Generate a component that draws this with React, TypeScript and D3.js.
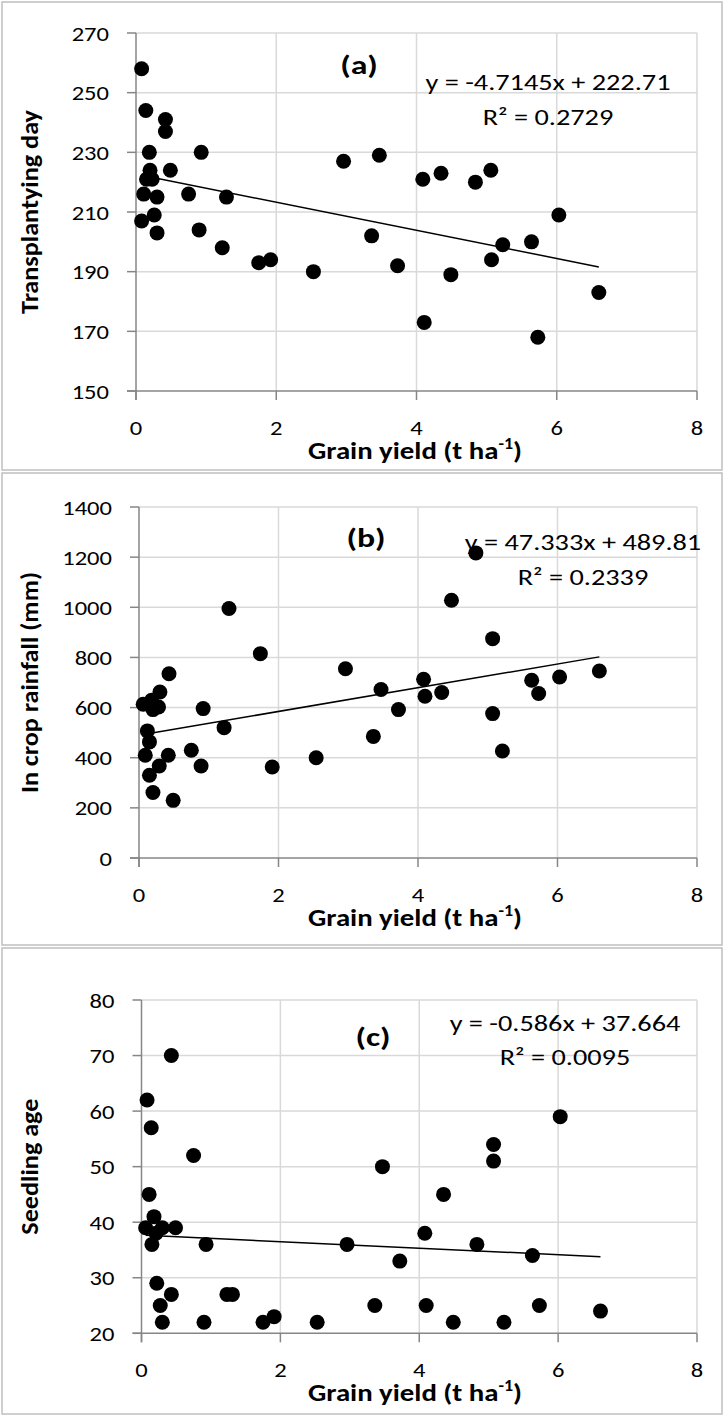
import React from 'react';
import * as d3 from 'd3';

// ---------- DATA ----------
const xTicks = [0, 2, 4, 6, 8];

const yieldA = [0.08, 0.14, 0.42, 0.42, 0.19, 0.93, 0.2, 0.49, 0.15, 0.23, 0.11, 0.3, 0.75, 1.29, 0.26, 0.08, 0.3, 0.9, 1.23, 1.75, 1.92, 2.53, 2.96, 3.47, 3.36, 3.73, 4.09, 4.35, 4.49, 4.84, 5.06, 5.07, 5.23, 5.64, 6.03, 6.6, 4.11, 5.73];
const transplantDay = [258, 244, 241, 237, 230, 230, 224, 224, 221, 221, 216, 215, 216, 215, 209, 207, 203, 204, 198, 193, 194, 190, 227, 229, 202, 192, 221, 223, 189, 220, 224, 194, 199, 200, 209, 183, 173, 168];
const yTicksA = [150, 170, 190, 210, 230, 250, 270];

const yieldB = [0.06, 0.18, 0.2, 0.28, 0.3, 0.43, 0.12, 0.15, 0.09, 0.42, 0.29, 0.15, 0.2, 0.49, 0.92, 0.75, 0.89, 1.22, 1.29, 1.74, 1.91, 2.54, 2.96, 3.47, 3.36, 3.72, 4.08, 4.1, 4.34, 4.48, 4.83, 5.07, 5.07, 5.21, 5.63, 5.73, 6.03, 6.6];
const rainfall = [613, 629, 592, 602, 662, 735, 507, 463, 410, 410, 367, 330, 261, 230, 596, 430, 367, 520, 995, 815, 363, 400, 755, 672, 485, 592, 713, 645, 660, 1028, 1217, 875, 576, 427, 709, 656, 722, 746];
const yTicksB = [0, 200, 400, 600, 800, 1000, 1200, 1400];

const yieldC = [0.43, 0.08, 0.14, 0.75, 0.11, 0.18, 0.06, 0.3, 0.49, 0.21, 0.15, 0.93, 2.96, 0.22, 0.43, 0.27, 0.3, 1.23, 1.31, 0.9, 1.75, 1.91, 2.53, 3.36, 3.47, 3.72, 4.08, 4.1, 4.35, 4.49, 4.83, 5.07, 5.07, 5.22, 5.63, 5.73, 6.03, 6.61];
const seedlingAge = [70, 62, 57, 52, 45, 41, 39, 39, 39, 38, 36, 36, 36, 29, 27, 25, 22, 27, 27, 22, 22, 23, 22, 25, 50, 33, 38, 25, 45, 22, 36, 54, 51, 22, 34, 25, 59, 24];
const yTicksC = [20, 30, 40, 50, 60, 70, 80];

const panelLabels = ['(a)', '(b)', '(c)'];
const yTitles = ['Transplantying day', 'In crop rainfall (mm)', 'Seedling age'];
const slopes = [-4.7145, 47.333, -0.586];
const intercepts = [222.71, 489.81, 37.664];
const equations = ['y = -4.7145x + 222.71', 'y = 47.333x + 489.81', 'y = -0.586x + 37.664'];
const r2Labels = ['R\u00B2 = 0.2729', 'R\u00B2 = 0.2339', 'R\u00B2 = 0.0095'];

// ---------- LAYOUT ----------
const FONT = 'Carlito, Calibri, Lato, "Open Sans", sans-serif';

type Layout = {
  boxTop: number; boxBottom: number;
  left: number; right: number; top: number; bottom: number;
  labelX: number; labelY: number;
  eqX: number; eqY: number; r2Y: number;
};

const layouts: Layout[] = [
  { boxTop: 2, boxBottom: 470, left: 136, right: 697, top: 33, bottom: 391, labelX: 359, labelY: 74, eqX: 548, eqY: 90, r2Y: 125 },
  { boxTop: 473, boxBottom: 945, left: 139, right: 697, top: 507, bottom: 858, labelX: 366, labelY: 547, eqX: 583, eqY: 550, r2Y: 585 },
  { boxTop: 948, boxBottom: 1414, left: 141.5, right: 697, top: 1000, bottom: 1333.3, labelX: 373, labelY: 1046, eqX: 565, eqY: 1031, r2Y: 1065 },
];

const panelData = [
  { xs: yieldA, ys: transplantDay, yTicks: yTicksA },
  { xs: yieldB, ys: rainfall, yTicks: yTicksB },
  { xs: yieldC, ys: seedlingAge, yTicks: yTicksC },
];

type TProps = {
  x: number; y: number; sx?: number; rot?: number; size: number; bold?: boolean;
  anchor?: 'start' | 'middle' | 'end'; dy?: string; children: React.ReactNode;
};

function T({ x, y, sx = 1, rot = 0, size, bold, anchor = 'middle', dy, children }: TProps) {
  return (
    <text
      transform={`translate(${x},${y}) rotate(${rot}) scale(${sx},1)`}
      textAnchor={anchor}
      fontSize={size}
      fontWeight={bold ? 'bold' : 'normal'}
      dy={dy}
      fill="#000"
    >
      {children}
    </text>
  );
}

function Panel({ i }: { i: number }) {
  const L = layouts[i];
  const { xs, ys, yTicks } = panelData[i];
  const x = d3.scaleLinear().domain([xTicks[0], xTicks[xTicks.length - 1]]).range([L.left, L.right]);
  const y = d3.scaleLinear().domain([yTicks[0], yTicks[yTicks.length - 1]]).range([L.bottom, L.top]);
  const xMin = d3.min(xs) as number;
  const xMax = d3.max(xs) as number;
  const fit = d3.line<number>().x(v => x(v)).y(v => y(slopes[i] * v + intercepts[i]));
  const gridColor = '#d9d9d9';
  const axisColor = '#868686';
  const midY = (L.top + L.bottom) / 2;
  const midX = 415;
  return (
    <g>
      <rect x={2} y={L.boxTop} width={720} height={L.boxBottom - L.boxTop} fill="#fff" stroke="#bfbfbf" strokeWidth={1.5} />
      {yTicks.slice(1).map(t => (
        <line key={'gy' + t} x1={L.left} x2={L.right} y1={y(t)} y2={y(t)} stroke={gridColor} strokeWidth={1.5} />
      ))}
      {xTicks.slice(1).map(t => (
        <line key={'gx' + t} x1={x(t)} x2={x(t)} y1={L.top} y2={L.bottom} stroke={gridColor} strokeWidth={1.5} />
      ))}
      <line x1={L.left} x2={L.left} y1={L.top} y2={L.bottom + 9} stroke={axisColor} strokeWidth={1.5} />
      <line x1={L.left - 9} x2={L.right} y1={L.bottom} y2={L.bottom} stroke={axisColor} strokeWidth={1.5} />
      {yTicks.map(t => (
        <line key={'ty' + t} x1={L.left - 9} x2={L.left} y1={y(t)} y2={y(t)} stroke={axisColor} strokeWidth={1.5} />
      ))}
      {xTicks.map(t => (
        <line key={'tx' + t} x1={x(t)} x2={x(t)} y1={L.bottom} y2={L.bottom + 9} stroke={axisColor} strokeWidth={1.5} />
      ))}
      {yTicks.map(t => (
        <T key={'ly' + t} x={L.left - 27} y={y(t)} dy="0.36em" anchor="end" size={21} sx={1.17}>{t}</T>
      ))}
      {xTicks.map(t => (
        <T key={'lx' + t} x={x(t)} y={L.bottom + 44} size={21} sx={1.17}>{t}</T>
      ))}
      <T x={midX} y={L.bottom + 68} size={24} bold sx={1.2}>
        Grain yield (t ha<tspan fontSize={15} dy={-10}>-1</tspan><tspan dy={10}>)</tspan>
      </T>
      <T x={38} y={midY} rot={-90} size={24} bold sx={1.09}>{yTitles[i]}</T>
      <path d={fit([xMin, xMax]) as string} fill="none" stroke="#000" strokeWidth={1.5} />
      {xs.map((v, k) => (
        <circle key={'p' + k} cx={x(v)} cy={y(ys[k])} r={7.5} fill="#000" />
      ))}
      <T x={L.labelX} y={L.labelY} size={27} bold sx={1.25}>{panelLabels[i]}</T>
      <T x={L.eqX} y={L.eqY} size={23} sx={1.23}>{equations[i]}</T>
      <T x={L.eqX} y={L.r2Y} size={23} sx={1.23}>{r2Labels[i]}</T>
    </g>
  );
}

export default function App() {
  return (
    <svg width={725} height={1417} viewBox="0 0 725 1417" style={{ position: 'absolute', left: 0, top: 0, display: 'block', background: '#fff' }} fontFamily={FONT}>
      <rect x={0} y={0} width={725} height={1417} fill="#fff" />
      {[0, 1, 2].map(i => <Panel key={i} i={i} />)}
    </svg>
  );
}
